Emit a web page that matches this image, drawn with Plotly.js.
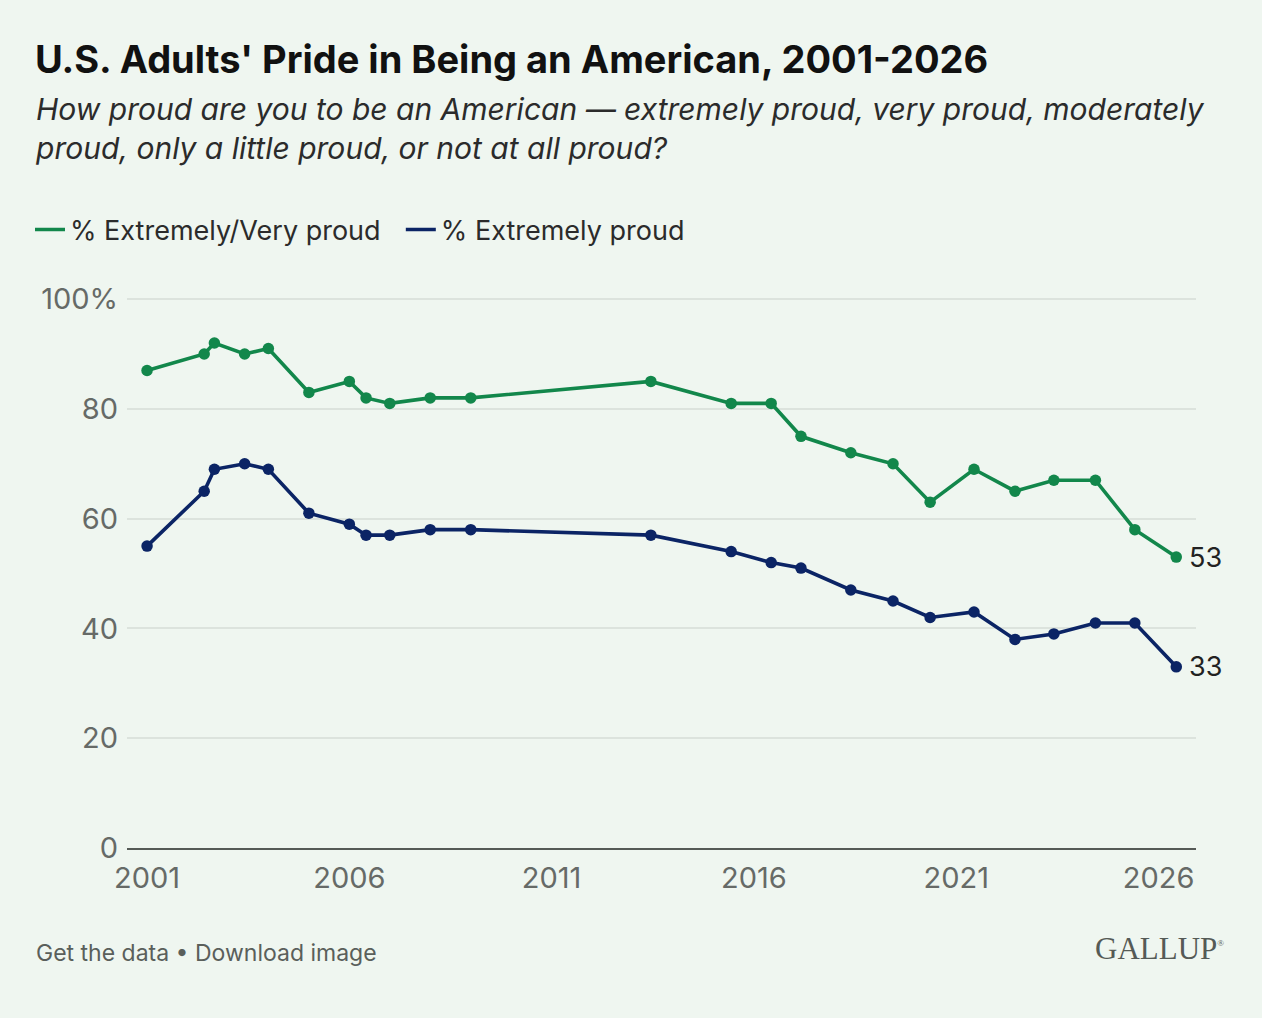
<!DOCTYPE html>
<html>
<head>
<meta charset="utf-8">
<script src="https://cdn.plot.ly/plotly-3.0.1.min.js"></script>
<style>
  html, body { margin: 0; padding: 0; background: #EFF6F0; }
  #chart { width: 1262px; height: 1018px; }
</style>
</head>
<body>
<div id="chart"></div>
<script>
// Survey dates (approximate month of each Gallup reading)
const DATES = [
  "2001-01-01", "2002-06-01", "2002-09-01", "2003-06-01", "2004-01-01",
  "2005-01-01", "2006-01-01", "2006-06-01", "2007-01-01", "2008-01-01",
  "2009-01-01", "2013-06-15", "2015-06-10", "2016-06-05", "2017-03-01",
  "2018-05-25", "2019-06-10", "2020-05-10", "2021-06-10", "2022-06-15",
  "2023-06-01", "2024-06-10", "2025-06-01", "2026-06-10",
];
const EXTREMELY_VERY = [87, 90, 92, 90, 91, 83, 85, 82, 81, 82, 82, 85,
                        81, 81, 75, 72, 70, 63, 69, 65, 67, 67, 58, 53];
const EXTREMELY = [55, 65, 69, 70, 69, 61, 59, 57, 57, 58, 58, 57,
                   54, 52, 51, 47, 45, 42, 43, 38, 39, 41, 41, 33];

const X_TICKS = ["2001-01-01", "2006-01-01", "2011-01-01", "2016-01-01", "2021-01-01", "2026-01-01"];
const X_TICK_TEXT = ["2001", "2006", "2011", "2016", "2021", "2026"];
const Y_TICKS = [0, 20, 40, 60, 80, 100];
const Y_TICK_TEXT = ["0", "20", "40", "60", "80", "100%"];

const GREEN = "#12874B";
const NAVY = "#0B2465";
const BG = "#EFF6F0";
const GRID = "#DCE3DD";
const TICK = "#666a67";
const FONT = "Inter, 'Noto Sans', sans-serif";

// plot box in pixels, used to place the free text in paper coordinates
const PL = 127, PR = 1196, PT = 298, PB = 848;
const px = (x) => (x - PL) / (PR - PL);
const py = (y) => (PB - y) / (PB - PT);

const series = [
  { name: "% Extremely/Very proud\u00a0\u00a0", y: EXTREMELY_VERY, color: GREEN },
  { name: "% Extremely proud", y: EXTREMELY, color: NAVY },
];

const traces = [];
series.forEach((s) => {
  traces.push({
    x: DATES, y: s.y, name: s.name, showlegend: false,
    mode: "lines+markers", line: { color: s.color, width: 3.6 },
    marker: { color: s.color, size: 11.5 },
  });
});
// legend-only entries: plain line key, no marker
series.forEach((s) => {
  traces.push({
    x: [null], y: [null], name: s.name, mode: "lines",
    line: { color: s.color, width: 3.6 },
  });
});

// End-of-line value labels, taken from the last point of each series
const last = DATES.length - 1;
const endLabels = series.map((s) => ({
  x: DATES[last], y: s.y[last], xref: "x", yref: "y",
  text: String(s.y[last]), showarrow: false, xanchor: "left", xshift: 11,
  font: { family: FONT, size: 27, color: "#222" },
}));

const layout = {
  width: 1262, height: 1018,
  paper_bgcolor: BG, plot_bgcolor: BG,
  font: { family: FONT, color: TICK },
  margin: { l: PL, r: 1262 - PR, t: PT, b: 1018 - PB },
  title: {
    text: "<b>U.S. Adults' Pride in Being an American, 2001-2026</b>",
    xref: "container", yref: "container", x: 35 / 1262, xanchor: "left",
    y: 1 - 60 / 1018, yanchor: "middle",
    font: { family: FONT, size: 38, color: "#111" },
  },
  showlegend: true,
  legend: {
    orientation: "h", xref: "container", yref: "container",
    x: 30 / 1262, y: 1 - 230 / 1018, xanchor: "left", yanchor: "middle",
    font: { family: FONT, size: 27, color: "#2b2b2b" },
    bgcolor: "rgba(0,0,0,0)", itemwidth: 30,
  },
  xaxis: {
    type: "date", range: ["2000-07-04", "2026-12-05"],
    tickvals: X_TICKS, ticktext: X_TICK_TEXT,
    showgrid: false, zeroline: false,
    showline: true, linecolor: "#555a56", linewidth: 2,
    ticks: "", ticklabelstandoff: 3,
    tickfont: { family: FONT, size: 29, color: TICK },
  },
  yaxis: {
    range: [0, 100.2], tickvals: Y_TICKS, ticktext: Y_TICK_TEXT,
    showgrid: true, gridcolor: GRID, gridwidth: 2, zeroline: false,
    ticks: "", ticklabelstandoff: 8,
    tickfont: { family: FONT, size: 29, color: TICK },
  },
  annotations: endLabels.concat([
    {
      xref: "paper", yref: "paper", x: px(33), y: py(128),
      xanchor: "left", yanchor: "middle", align: "left", showarrow: false,
      text: "<i>How proud are you to be an American — extremely proud, very proud, moderately<br>proud, only a little proud, or not at all proud?</i>",
      font: { family: FONT, size: 30, color: "#2b2b2b" },
    },
    {
      xref: "paper", yref: "paper", x: px(34), y: py(953),
      xanchor: "left", yanchor: "middle", showarrow: false,
      text: "Get the data • Download image",
      font: { family: FONT, size: 23, color: "#5a5f5b" },
    },
    {
      xref: "paper", yref: "paper", x: px(1226), y: py(948),
      xanchor: "right", yanchor: "middle", showarrow: false,
      text: "GALLUP<sup><span style='font-size:9px'>®</span></sup>",
      font: { family: "'Liberation Serif', 'DejaVu Serif', serif", size: 31, color: "#555a56" },
    },
  ]),
};

Plotly.newPlot("chart", traces, layout, { displayModeBar: false, staticPlot: true });
</script>
</body>
</html>
